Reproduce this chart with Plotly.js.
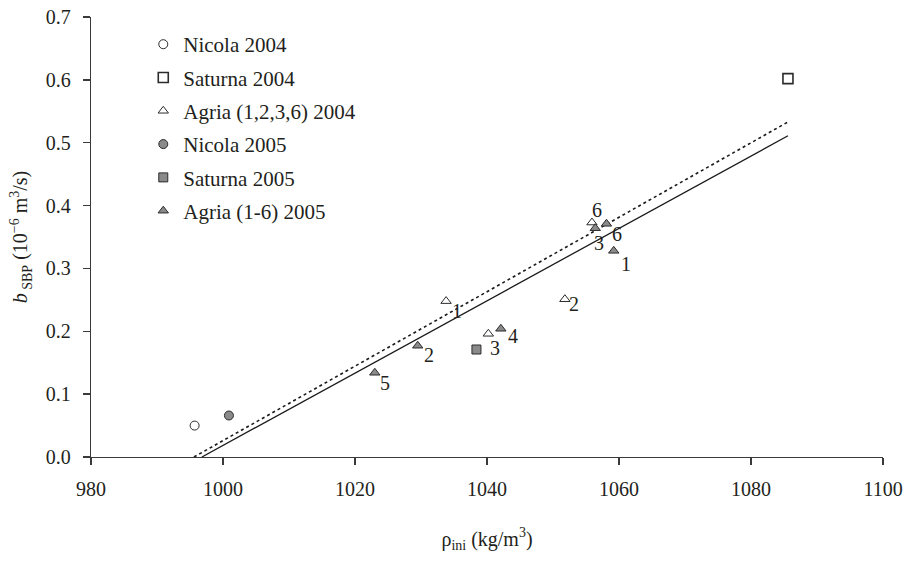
<!DOCTYPE html>
<html>
<head>
<meta charset="utf-8">
<script src="https://cdn.plot.ly/plotly-3.0.1.min.js"></script>
<style>
  html, body { margin: 0; padding: 0; background: #fff; }
  #chart { width: 906px; height: 561px; }
</style>
</head>
<body>
<div id="chart"></div>
<script>
// ---- Data ----
const seriesNames = ["Nicola 2004", "Saturna 2004", "Agria (1,2,3,6) 2004", "Nicola 2005", "Saturna 2005", "Agria (1-6) 2005"];

const nicola2004X = [995.7];
const nicola2004Y = [0.050];

const saturna2004X = [1085.6];
const saturna2004Y = [0.602];

const agria2004X = [1033.8, 1051.8, 1040.2, 1055.9];
const agria2004Y = [0.248, 0.251, 0.196, 0.373];
const agria2004Labels = ["1", "2", "3", "6"];

const nicola2005X = [1000.9];
const nicola2005Y = [0.066];

const saturna2005X = [1038.4];
const saturna2005Y = [0.171];

const agria2005X = [1059.2, 1029.5, 1056.4, 1042.1, 1023.0, 1058.1];
const agria2005Y = [0.328, 0.177, 0.364, 0.204, 0.134, 0.371];
const agria2005Labels = ["1", "2", "3", "4", "5", "6"];

// regression lines (end points)
const fitSolidX = [996.8, 1085.6];
const fitSolidY = [0.0, 0.511];
const fitDottedX = [995.6, 1085.6];
const fitDottedY = [0.0, 0.533];

const xTicks = [980, 1000, 1020, 1040, 1060, 1080, 1100];
const yTicks = [0.0, 0.1, 0.2, 0.3, 0.4, 0.5, 0.6, 0.7];

// ---- Styling ----
const FONT = "Liberation Serif, 'Times New Roman', serif";
const TXT = "#231f20";
const EDGE = "#2b2b2b";
const FILL = "#8a8a8a";

// label pixel offsets (style only) for the point numbers
const agria2004Offsets = [[11, 10], [9, 5], [7, 14], [5, -13]];
const agria2005Offsets = [[12, 13], [11, 9], [4, 15], [12, 7], [10, 10], [11, 10]];

function markerTrace(name, x, y, symbol, fill, lw, size, group) {
  return {
    type: "scatter", mode: "markers", name: name, x: x, y: y,
    legendgroup: group,
    marker: { symbol: symbol, size: size, color: fill, line: { color: EDGE, width: lw } },
    hoverinfo: "x+y"
  };
}

const traces = [
  { type: "scatter", mode: "lines", x: fitSolidX, y: fitSolidY, showlegend: false,
    line: { color: "#1a1a1a", width: 1.3 }, hoverinfo: "skip" },
  { type: "scatter", mode: "lines", x: fitDottedX, y: fitDottedY, showlegend: false,
    line: { color: "#1a1a1a", width: 1.6, dash: "dot" }, hoverinfo: "skip" },
  markerTrace(seriesNames[0], nicola2004X, nicola2004Y, "circle", "#ffffff", 1, 9, "g0"),
  markerTrace(seriesNames[1], saturna2004X, saturna2004Y, "square", "#ffffff", 1.6, 10, "g1"),
  markerTrace(seriesNames[2], agria2004X, agria2004Y, "triangle-up", "#ffffff", 1, 9, "g2"),
  markerTrace(seriesNames[3], nicola2005X, nicola2005Y, "circle", FILL, 1, 9, "g3"),
  markerTrace(seriesNames[4], saturna2005X, saturna2005Y, "square", FILL, 1, 9, "g4"),
  markerTrace(seriesNames[5], agria2005X, agria2005Y, "triangle-up", FILL, 1, 9, "g5")
];

const annotations = [];
function addLabels(xs, ys, labels, offsets) {
  for (let i = 0; i < xs.length; i++) {
    annotations.push({
      x: xs[i], y: ys[i], xref: "x", yref: "y", text: labels[i], showarrow: false,
      xshift: offsets[i][0], yshift: -offsets[i][1],
      font: { family: FONT, size: 20, color: TXT }
    });
  }
}
addLabels(agria2004X, agria2004Y, agria2004Labels, agria2004Offsets);
addLabels(agria2005X, agria2005Y, agria2005Labels, agria2005Offsets);

const layout = {
  width: 906, height: 561,
  margin: { l: 91, r: 23, t: 17, b: 104 },
  paper_bgcolor: "#ffffff", plot_bgcolor: "#ffffff",
  font: { family: FONT, size: 20, color: TXT },
  showlegend: true,
  legend: {
    x: 0.066, y: 0.984, xanchor: "left", yanchor: "top",
    bgcolor: "rgba(0,0,0,0)", borderwidth: 0,
    font: { family: FONT, size: 21, color: TXT },
    traceorder: "grouped", tracegroupgap: 3
  },
  xaxis: {
    range: [980, 1100], tickvals: xTicks, ticktext: xTicks.map(String),
    showgrid: false, zeroline: false, showline: true, linecolor: "#3a3a3a", linewidth: 1.3,
    ticks: "outside", ticklen: 7, tickwidth: 1.3, tickcolor: "#3a3a3a",
    ticklabelstandoff: 7,
    tickfont: { family: FONT, size: 20, color: TXT },
    title: { text: "ρ<sub>ini</sub> (kg/m<sup>3</sup>)", font: { family: FONT, size: 20, color: TXT }, standoff: 32 },
    fixedrange: true
  },
  yaxis: {
    range: [0, 0.7], tickvals: yTicks, ticktext: yTicks.map(v => v.toFixed(1)),
    showgrid: false, zeroline: false, showline: true, linecolor: "#3a3a3a", linewidth: 1.3,
    ticks: "outside", ticklen: 7, tickwidth: 1.3, tickcolor: "#3a3a3a",
    ticklabelstandoff: 8,
    tickfont: { family: FONT, size: 20, color: TXT },
    title: { text: "<i>b</i><sub> SBP</sub> (10<sup>−6</sup> m<sup>3</sup>/s)", font: { family: FONT, size: 20, color: TXT }, standoff: 12 },
    fixedrange: true
  },
  annotations: annotations
};

Plotly.newPlot("chart", traces, layout, { staticPlot: true, displayModeBar: false });
</script>
</body>
</html>
